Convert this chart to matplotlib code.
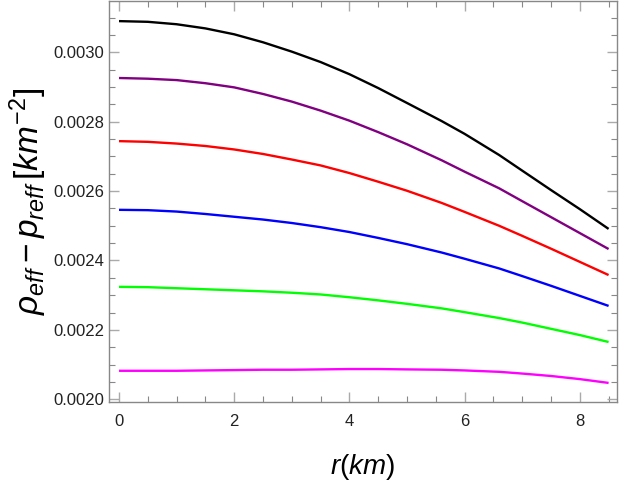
import numpy as np
import matplotlib
matplotlib.use("Agg")
import matplotlib.pyplot as plt
from matplotlib.ticker import MultipleLocator, FormatStrFormatter

plt.rcParams['font.family'] = ['Liberation Sans', 'DejaVu Sans']
plt.rcParams['mathtext.fontset'] = 'custom'
plt.rcParams['mathtext.rm'] = 'Liberation Sans'
plt.rcParams['mathtext.it'] = 'Liberation Sans:italic'

# radius values (km) where the curves were read
r = [0, 0.5, 1, 1.5, 2, 2.5, 3, 3.5, 4, 4.5, 5, 5.6, 6, 6.6, 7, 7.5, 8, 8.5]

# rho_eff - p_reff, in units of 1e-3 km^-2
black = [3.090, 3.088, 3.081, 3.069, 3.052, 3.029, 3.002, 2.972, 2.937, 2.897,
         2.854, 2.802, 2.765, 2.704, 2.659, 2.603, 2.548, 2.491]
purple = [2.926, 2.924, 2.920, 2.911, 2.899, 2.880, 2.858, 2.832, 2.803, 2.770,
          2.735, 2.689, 2.656, 2.608, 2.571, 2.525, 2.479, 2.433]
red = [2.744, 2.742, 2.737, 2.730, 2.720, 2.707, 2.691, 2.674, 2.652, 2.627,
       2.601, 2.566, 2.540, 2.500, 2.471, 2.434, 2.396, 2.358]
blue = [2.546, 2.545, 2.541, 2.534, 2.526, 2.518, 2.508, 2.496, 2.482, 2.465,
        2.447, 2.423, 2.405, 2.377, 2.355, 2.327, 2.298, 2.269]
green = [2.324, 2.323, 2.320, 2.317, 2.314, 2.311, 2.307, 2.302, 2.294, 2.285,
         2.275, 2.262, 2.251, 2.234, 2.221, 2.203, 2.185, 2.165]
magenta = [2.082, 2.082, 2.082, 2.083, 2.084, 2.085, 2.085, 2.086, 2.087, 2.087,
           2.086, 2.085, 2.083, 2.079, 2.074, 2.067, 2.058, 2.047]

series = [black, purple, red, blue, green, magenta]
colors = ['black', '#800080', 'red', 'blue', '#00ff00', 'magenta']

fig = plt.figure(figsize=(6.21, 4.91), dpi=100)
ax = fig.add_axes([109 / 621, 89 / 491, 508 / 621, 401 / 491])

for vals, c in zip(series, colors):
    ax.plot(r, np.array(vals) * 1e-3, color=c, lw=1.7,
            solid_capstyle='butt', solid_joinstyle='round')

ax.set_xlim(-0.174, 8.646)
ax.set_ylim(0.001992, 0.003148)

ax.xaxis.set_major_locator(MultipleLocator(2))
ax.xaxis.set_minor_locator(MultipleLocator(0.5))
ax.yaxis.set_major_locator(MultipleLocator(0.0002))
ax.yaxis.set_minor_locator(MultipleLocator(0.00005))
ax.yaxis.set_major_formatter(FormatStrFormatter('%.4f'))

ax.tick_params(which='both', direction='in', top=True, right=True,
               color='#888888', labelsize=12, labelcolor='#222222')
ax.tick_params(which='major', length=7, width=1.0, color='#aaaaaa')
ax.tick_params(which='minor', length=4, width=0.8)
ax.tick_params(axis='x', which='major', pad=9)
for s in ax.spines.values():
    s.set_color('#888888')
    s.set_linewidth(1.0)

ax.set_xlabel(r'$r(km)$', fontsize=20, labelpad=16)
ax.set_ylabel(r'$\rho_{eff}-p_{reff}\,[km^{-2}]$', fontsize=24, labelpad=3)

fig.savefig('out.png', dpi=100)
